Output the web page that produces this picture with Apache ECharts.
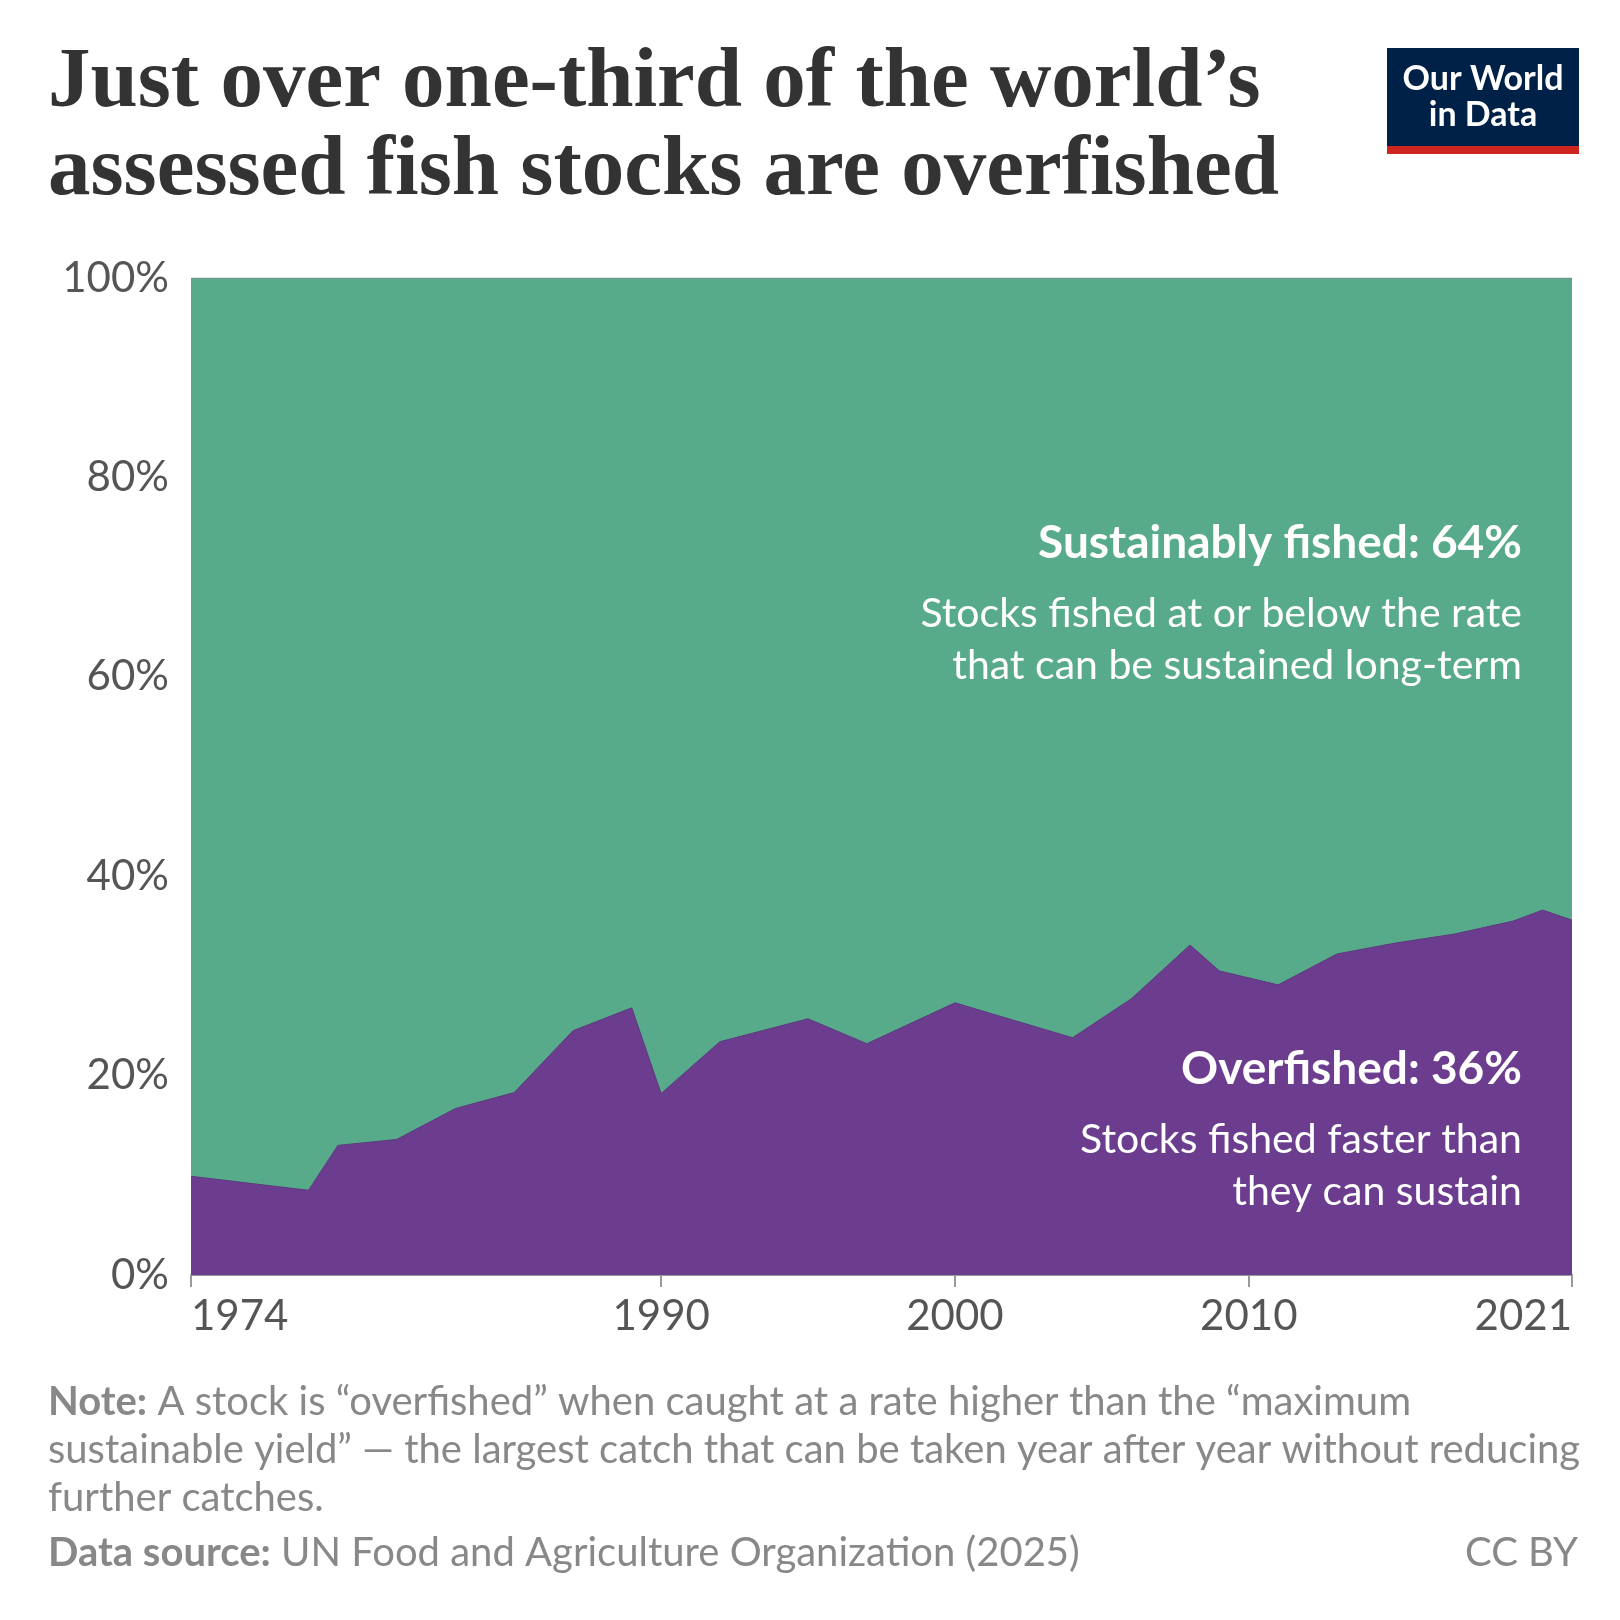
<!DOCTYPE html>
<html>
<head>
<meta charset="utf-8">
<script src="https://cdn.jsdelivr.net/npm/echarts@6/dist/echarts.min.js"></script>
<style>html,body{margin:0;padding:0;background:#fff}#chart{width:1620px;height:1620px}</style>
</head>
<body>
<div id="chart"></div>
<script>
// years and share of assessed stocks that are overfished (%)
var years = [1974, 1978, 1979, 1981, 1983, 1985, 1987, 1989, 1990, 1992, 1995, 1997, 2000, 2004, 2006, 2008, 2009, 2011, 2013, 2015, 2017, 2019, 2020, 2021];
var overfished = [9.9, 8.5, 13.0, 13.6, 16.7, 18.3, 24.5, 26.8, 18.2, 23.4, 25.7, 23.2, 27.3, 23.8, 27.7, 33.1, 30.5, 29.1, 32.2, 33.3, 34.2, 35.5, 36.6, 35.6];
var xTicks = [1974, 1990, 2000, 2010, 2021];

var sustainable = overfished.map(function (v) { return +(100 - v).toFixed(1); });
// top of the green band = overfished + sustainable
var topEdge = overfished.map(function (v, i) { return v + sustainable[i]; });
var font = 'Lato, "Noto Sans", sans-serif';

var chart = echarts.init(document.getElementById('chart'));
var option = {
    animation: false,
    grid: { left: 191, right: 48, top: 278, bottom: 345 },
    xAxis: {
        type: 'value', min: 1974, max: 2021,
        axisLine: { lineStyle: { color: '#999', width: 2 } },
        axisTick: { show: true, length: 12, customValues: xTicks, lineStyle: { color: '#999', width: 2 } },
        splitLine: { show: false },
        axisLabel: {
            color: '#555', fontSize: 42, fontFamily: font, margin: 20,
            customValues: xTicks, alignMinLabel: 'left', alignMaxLabel: 'right',
            formatter: function (v) { return String(v); }
        }
    },
    yAxis: {
        type: 'value', min: 0, max: 100, interval: 20,
        axisLabel: { color: '#555', fontSize: 42, fontFamily: font, margin: 22,
            formatter: '{value}%' },
        axisLine: { show: false }, axisTick: { show: false },
        splitLine: { show: false }
    },
    series: [
        { type: 'line', symbol: 'none', z: 1,
          data: years.map(function (y, i) { return [y, topEdge[i]]; }),
          lineStyle: { color: '#888', width: 1 },
          areaStyle: { color: '#58ab8a', opacity: 1 } },
        { type: 'line', symbol: 'none', z: 2,
          data: years.map(function (y, i) { return [y, overfished[i]]; }),
          lineStyle: { color: '#5b3a7e', width: 1 },
          areaStyle: { color: '#6c3d8f', opacity: 1 } }
    ],
    graphic: { elements: [
        { type: 'text', z: 100, left: 48, top: 40, style: { text: 'Just over one-third of the world\u2019s\nassessed fish stocks are overfished',
            font: 'bold 85px "Liberation Serif", serif', fill: '#333', lineHeight: 88 } },
        { type: 'rect', z: 100, shape: { x: 1387, y: 48, width: 192, height: 99 }, style: { fill: '#002147' } },
        { type: 'rect', z: 100, shape: { x: 1387, y: 146, width: 192, height: 8 }, style: { fill: '#ce261e' } },
        { type: 'text', z: 101, x: 1483, y: 97, style: { text: 'Our World\nin Data', font: 'bold 34px ' + font,
            fill: '#fff', align: 'center', verticalAlign: 'middle', lineHeight: 36 } },
        { type: 'text', z: 100, x: 1522, y: 520, style: { text: 'Sustainably fished: 64%', font: 'bold 46px ' + font, fill: '#fff', align: 'right' } },
        { type: 'text', z: 100, x: 1522, y: 588, style: { text: 'Stocks fished at or below the rate\nthat can be sustained long-term', font: '41px ' + font, fill: '#fff', align: 'right', lineHeight: 52 } },
        { type: 'text', z: 100, x: 1522, y: 1046, style: { text: 'Overfished: 36%', font: 'bold 46px ' + font, fill: '#fff', align: 'right' } },
        { type: 'text', z: 100, x: 1522, y: 1114, style: { text: 'Stocks fished faster than\nthey can sustain', font: '41px ' + font, fill: '#fff', align: 'right', lineHeight: 52 } },
        { type: 'text', z: 100, left: 48, top: 1378, style: { rich: { b: { font: 'bold 40px ' + font, fill: '#888' }, n: { font: '40px ' + font, fill: '#888' } },
            text: '{b|Note:}{n| A stock is \u201coverfished\u201d when caught at a rate higher than the \u201cmaximum}\n{n|sustainable yield\u201d \u2014 the largest catch that can be taken year after year without reducing}\n{n|further catches.}',
            lineHeight: 48 } },
        { type: 'text', z: 100, left: 48, top: 1533, style: { rich: { b: { font: 'bold 40px ' + font, fill: '#888' }, n: { font: '40px ' + font, fill: '#888' } },
            text: '{b|Data source:}{n| UN Food and Agriculture Organization (2025)}' } },
        { type: 'text', z: 100, right: 42, top: 1533, style: { text: 'CC BY', font: '40px ' + font, fill: '#888' } }
    ] }
};
chart.setOption(option);
</script>
</body>
</html>
